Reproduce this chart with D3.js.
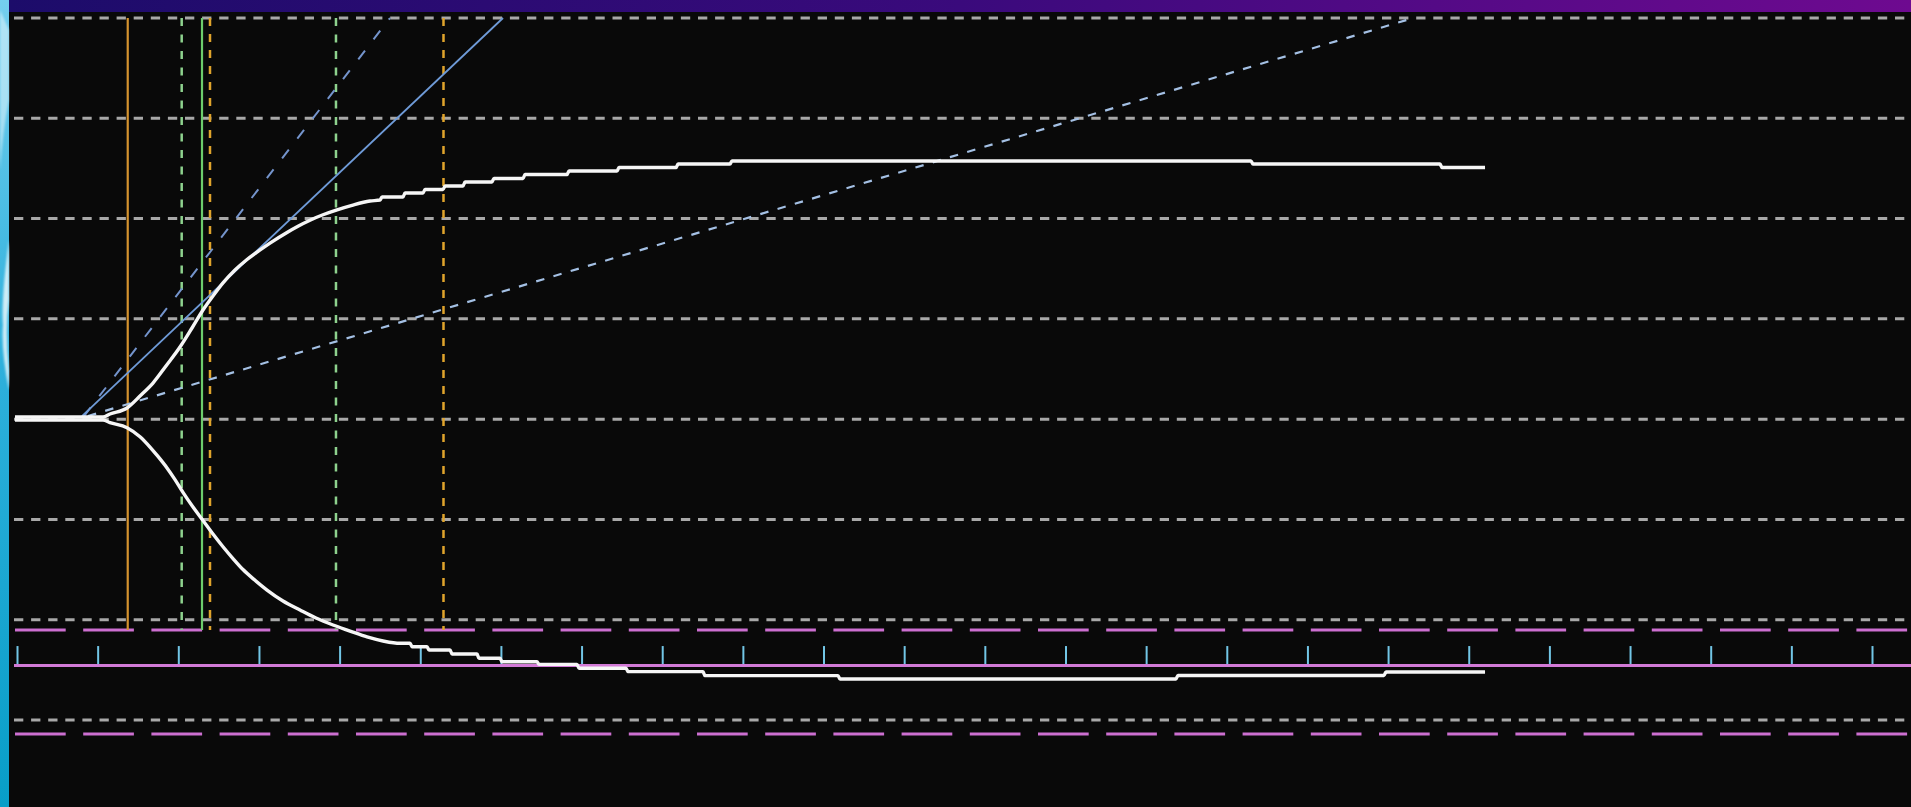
<!DOCTYPE html>
<html>
<head>
<meta charset="utf-8">
<script src="https://cdn.jsdelivr.net/npm/d3@7"></script>
<style>
  html, body { margin: 0; padding: 0; background: #090909; overflow: hidden; }
  svg { display: block; }
</style>
</head>
<body>
<svg id="scope" width="1911" height="807"></svg>
<script>
// ---- data (time in divisions, amplitude in divisions) ----
const timeTicks = d3.range(0, 24);
const gridLevels = [4, 3, 2, 1, 0, -1, -2, -3];

// positive branch of the response
const upperTrace = [
  [-0.025,0.021],[1.066,0.021],[1.153,0.051],[1.364,0.111],[1.525,0.231],
  [1.686,0.360],[1.847,0.530],[2.021,0.719],[2.170,0.909],[2.306,1.088],[2.430,1.228],
  [2.554,1.358],[2.703,1.487],[2.852,1.592],[3.001,1.680],[3.137,1.756],[3.348,1.862],
  [3.484,1.924],[3.633,1.984],[3.794,2.038],[3.968,2.087],[4.154,2.132],[4.377,2.175],
  [4.501,2.185],[4.526,2.215],[4.786,2.215],[4.811,2.255],[5.034,2.255],[5.059,2.290],
  [5.282,2.290],[5.307,2.325],[5.530,2.325],[5.555,2.365],[5.889,2.365],[5.914,2.400],
  [6.274,2.400],[6.299,2.439],[6.819,2.439],[6.844,2.474],[7.439,2.474],[7.464,2.509],
  [8.171,2.509],[8.196,2.544],[8.840,2.544],[8.865,2.574],[15.300,2.574],[15.325,2.544],
  [17.644,2.544],[17.669,2.509],[18.202,2.509]
];

// negative branch of the response
const lowerTrace = [
  [-0.025,-0.009],[1.066,-0.009],[1.153,-0.035],[1.364,-0.085],[1.525,-0.175],
  [1.649,-0.278],[1.748,-0.372],[1.860,-0.487],[1.959,-0.603],[2.058,-0.730],[2.182,-0.876],
  [2.306,-1.010],[2.430,-1.145],[2.554,-1.272],[2.678,-1.390],[2.802,-1.500],[2.951,-1.607],
  [3.100,-1.704],[3.298,-1.813],[3.509,-1.903],[3.707,-1.983],[3.918,-2.053],[4.129,-2.113],
  [4.340,-2.172],[4.538,-2.212],[4.749,-2.235],[4.873,-2.235],[4.898,-2.269],[5.084,-2.269],
  [5.108,-2.302],[5.369,-2.302],[5.394,-2.342],[5.704,-2.342],[5.728,-2.385],[5.989,-2.385],
  [6.014,-2.419],[6.447,-2.419],[6.472,-2.445],[6.943,-2.445],[6.968,-2.484],[7.551,-2.484],
  [7.576,-2.518],[8.506,-2.518],[8.530,-2.558],[10.180,-2.558],[10.204,-2.591],[14.370,-2.591],
  [14.395,-2.556],[16.949,-2.556],[16.974,-2.521],[18.202,-2.521]
];

// slope guides: [start, end] in (time, amplitude)
const slopeSteep   = [[0.831, 0.031], [4.625, 4.0]];
const slopeMid     = [[0.806, 0.031], [6.026, 4.0]];
const slopeShallow = [[0.880, 0.031], [17.272, 3.990]];

// cursor times
const cursorTimes = [1.373, 2.042, 2.294, 2.393, 3.955, 5.288];
const cursorKinds = ["orangeSolid", "greenDash", "greenSolid", "orangeDash", "greenDash", "orangeDash"];

// trigger / reference levels
const levelUpperLimit = -2.103;
const levelBase = -2.457;
const levelLowerLimit = -3.140;

// ---- layout ----
const W = 1911, H = 807;
const svg = d3.select("#scope");
const x = d3.scaleLinear().domain([0, 23]).range([17, 1872]);
const y = d3.scaleLinear().domain([-3, 4]).range([720, 18]);
const left = 14;
const edgeW = 9;

const defs = svg.append("defs");
const barGrad = defs.append("linearGradient").attr("id", "titleBar")
  .attr("x1", 0).attr("x2", 1).attr("y1", 0).attr("y2", 0);
barGrad.append("stop").attr("offset", 0).attr("stop-color", "#1c0c6a");
barGrad.append("stop").attr("offset", 0.5).attr("stop-color", "#3a0a7c");
barGrad.append("stop").attr("offset", 1).attr("stop-color", "#6e0a90");

const edgeGrad = defs.append("linearGradient").attr("id", "edge")
  .attr("x1", 0).attr("x2", 0).attr("y1", 0).attr("y2", 1);
edgeGrad.append("stop").attr("offset", 0).attr("stop-color", "#74cfee");
edgeGrad.append("stop").attr("offset", 0.45).attr("stop-color", "#2eb0dc");
edgeGrad.append("stop").attr("offset", 1).attr("stop-color", "#089ec8");

const softBlur = defs.append("filter").attr("id", "soft");
softBlur.append("feGaussianBlur").attr("stdDeviation", 1.2);

// background
svg.append("rect").attr("width", W).attr("height", H).attr("fill", "#090909");

// desktop edge on the left
svg.append("rect").attr("x", 0).attr("y", 0).attr("width", edgeW).attr("height", H).attr("fill", "url(#edge)");
const edgeArt = svg.append("g").attr("filter", "url(#soft)");
edgeArt.append("path").attr("d", "M0,10 L9,30 L9,100 Q3,130 0,170 Z").attr("fill", "#ffffff").attr("opacity", 0.45);
edgeArt.append("path").attr("d", "M9,240 Q1,300 3,325 Q1,350 9,390 L9,370 Q5,330 9,300 Z").attr("fill", "#ffffff").attr("opacity", 0.75);

// title bar
svg.append("rect").attr("x", edgeW).attr("y", 0).attr("width", W - edgeW).attr("height", 12).attr("fill", "url(#titleBar)");

// graticule
svg.append("g").selectAll("line").data(gridLevels).join("line")
  .attr("x1", left).attr("x2", W)
  .attr("y1", d => y(d)).attr("y2", d => y(d))
  .attr("stroke", "#a8a8a8").attr("stroke-width", 3)
  .attr("stroke-dasharray", "9.3 7.8");

// limit lines
svg.append("g").selectAll("line").data([levelUpperLimit, levelLowerLimit]).join("line")
  .attr("x1", 15).attr("x2", W)
  .attr("y1", d => y(d)).attr("y2", d => y(d))
  .attr("stroke", "#cc6fd0").attr("stroke-width", 3)
  .attr("stroke-dasharray", "50.7 17.5");

// time axis on the base level
svg.append("line")
  .attr("x1", left).attr("x2", W)
  .attr("y1", y(levelBase)).attr("y2", y(levelBase))
  .attr("stroke", "#d27ad6").attr("stroke-width", 3);

const axis = d3.axisTop(x).tickValues(timeTicks).tickSize(18).tickSizeOuter(0).tickFormat("");
const axisG = svg.append("g").attr("transform", `translate(0,${y(levelBase) - 1.5})`).call(axis);
axisG.select(".domain").remove();
axisG.selectAll(".tick line").attr("stroke", "#72c6e6").attr("stroke-width", 2);

// cursors
const cursorStyle = {
  orangeSolid: { stroke: "#d4922e", width: 2.2, dash: null },
  orangeDash:  { stroke: "#e0a42c", width: 2.5, dash: "8 8" },
  greenSolid:  { stroke: "#6ccc6c", width: 2.2, dash: null },
  greenDash:   { stroke: "#8ed28e", width: 2.5, dash: "8 8.5" }
};
svg.append("g").selectAll("line").data(cursorTimes).join("line")
  .attr("x1", d => x(d)).attr("x2", d => x(d))
  .attr("y1", y(4)).attr("y2", y(levelUpperLimit))
  .attr("stroke", (d, i) => cursorStyle[cursorKinds[i]].stroke)
  .attr("stroke-width", (d, i) => cursorStyle[cursorKinds[i]].width)
  .attr("stroke-dasharray", (d, i) => cursorStyle[cursorKinds[i]].dash);

// slope guides
const seg = d3.line().x(d => x(d[0])).y(d => y(d[1]));
svg.append("path").attr("d", seg(slopeSteep)).attr("fill", "none")
  .attr("stroke", "#7494cc").attr("stroke-width", 2).attr("stroke-dasharray", "11 14");
svg.append("path").attr("d", seg(slopeMid)).attr("fill", "none")
  .attr("stroke", "#6f9bd8").attr("stroke-width", 1.8);
svg.append("path").attr("d", seg(slopeShallow)).attr("fill", "none")
  .attr("stroke", "#a4c0e4").attr("stroke-width", 2.2).attr("stroke-dasharray", "8.5 9.5");

// response traces
const trace = d3.line().curve(d3.curveMonotoneX).x(d => x(d[0])).y(d => y(d[1]));
[upperTrace, lowerTrace].forEach(t => {
  svg.append("path").attr("d", trace(t)).attr("fill", "none")
    .attr("stroke", "#f6f6f6").attr("stroke-width", 3.4)
    .attr("stroke-linejoin", "round");
});
</script>
</body>
</html>
